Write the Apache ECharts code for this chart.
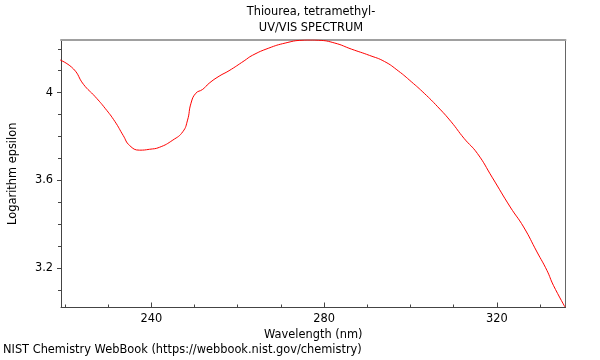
<!DOCTYPE html>
<html>
<head>
<meta charset="utf-8">
<script src="https://cdn.jsdelivr.net/npm/echarts@6/dist/echarts.min.js"></script>
<style>html,body{margin:0;padding:0;background:#fff}#c{width:600px;height:360px}</style>
</head>
<body>
<div id="c"></div>
<script>
const wavelengths = [218.9,222.0,224.3,227.0,229.3,231.6,233.5,235.0,237.3,239.6,241.9,245.0,247.3,248.4,249.2,250.3,251.9,253.4,255.7,258.0,261.5,263.4,267.2,271.0,274.9,276.8,278.7,282.5,286.4,290.5,294.0,297.2,300.2,303.2,306.3,309.4,312.4,315.5,318.9,323.1,326.2,329.3,331.6,333.1,335.8];
const logEps = [4.149,4.108,4.038,3.982,3.929,3.868,3.805,3.759,3.738,3.742,3.751,3.784,3.822,3.875,3.952,3.997,4.015,4.043,4.075,4.100,4.145,4.170,4.203,4.226,4.239,4.240,4.239,4.226,4.198,4.170,4.142,4.099,4.050,3.997,3.936,3.868,3.792,3.723,3.615,3.479,3.388,3.274,3.190,3.122,3.023];
const xMajorTicks = [240,280,320];
const xMinorTicks = [220,230,250,260,270,290,300,310,330];
const yMajorTicks = [3.2,3.6,4.0];
const yMinorTicks = [3.1,3.3,3.4,3.5,3.7,3.8,3.9,4.1,4.2];
const xMin = 219.1, xMax = 335.9, yMin = 3.021, yMax = 4.240;

const FONT = 'DejaVu Sans';
const FS = 11.4;
const chart = echarts.init(document.getElementById('c'), null, {renderer:'canvas'});
const hidden = {show:false};
const txt = (s, x, y, align) => ({type:'text', x:x, y:y, silent:true,
  style:{text:s, font:FS+'px "DejaVu Sans"', fill:'#000', textAlign:align, textVerticalAlign:'top'}});
chart.setOption({
  animation:false,
  backgroundColor:'#fff',
  textStyle:{fontFamily:FONT},
  grid:{left:57,right:34.5,top:40,bottom:52.5,show:false},
  graphic:[
    txt('Thiourea, tetramethyl-', 311, 7, 'center'),
    txt('UV/VIS SPECTRUM', 311, 23, 'center'),
    txt('NIST Chemistry WebBook (https://webbook.nist.gov/chemistry)', 3, 345, 'left')
  ],
  xAxis:[
    {type:'value',position:'bottom',min:xMin,max:xMax,
     name:'Wavelength (nm)',nameLocation:'middle',nameGap:19,
     nameTextStyle:{color:'#000',fontSize:FS,fontFamily:FONT},
     axisLine:{show:true,lineStyle:{color:'#444',width:1}},
     axisTick:{show:true,inside:true,length:5,lineStyle:{color:'#444'},customValues:xMajorTicks},
     axisLabel:{show:true,color:'#000',fontSize:FS,fontFamily:FONT,margin:6,customValues:xMajorTicks},
     splitLine:hidden},
    {type:'value',position:'bottom',min:xMin,max:xMax,
     axisLine:hidden,
     axisTick:{show:true,inside:true,length:3,lineStyle:{color:'#444'},customValues:xMinorTicks},
     axisLabel:hidden,splitLine:hidden},
    {type:'value',position:'top',min:xMin,max:xMax,
     axisLine:{show:true,lineStyle:{color:'#a0a0a0',width:2}},
     axisTick:hidden,axisLabel:hidden,splitLine:hidden}
  ],
  yAxis:[
    {type:'value',position:'left',min:yMin,max:yMax,
     name:'Logarithm epsilon',nameLocation:'middle',nameGap:42,
     nameTextStyle:{color:'#000',fontSize:FS,fontFamily:FONT},
     axisLine:{show:true,lineStyle:{color:'#444',width:1}},
     axisTick:{show:true,inside:false,length:4,lineStyle:{color:'#444'},customValues:yMajorTicks},
     axisLabel:{show:true,color:'#000',fontSize:FS,fontFamily:FONT,margin:8,customValues:yMajorTicks,
       formatter:function(v){return String(Math.round(v*10)/10);}},
     splitLine:hidden},
    {type:'value',position:'left',min:yMin,max:yMax,
     axisLine:hidden,
     axisTick:{show:true,inside:false,length:3,lineStyle:{color:'#444'},customValues:yMinorTicks},
     axisLabel:hidden,splitLine:hidden},
    {type:'value',position:'right',min:yMin,max:yMax,
     axisLine:{show:true,lineStyle:{color:'#666',width:1}},
     axisTick:hidden,axisLabel:hidden,splitLine:hidden}
  ],
  series:[{
    type:'line',xAxisIndex:0,yAxisIndex:0,
    data:wavelengths.map((w,i)=>[w,logEps[i]]),
    showSymbol:false,smooth:0.5,
    lineStyle:{color:'#ff0000',width:1},
    clip:true
  }]
});
</script>
</body>
</html>
